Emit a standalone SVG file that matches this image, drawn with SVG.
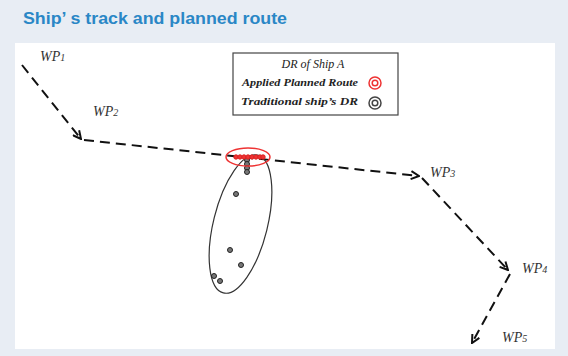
<svg xmlns="http://www.w3.org/2000/svg" width="568" height="356" viewBox="0 0 568 356">
<style>
.title{font-family:"Liberation Sans",Arial,sans-serif;font-weight:bold;font-size:17px;fill:#2a87c6}
.wp{font-family:"Liberation Serif","Times New Roman",serif;font-style:italic;font-size:14px;fill:#333}
.sub{font-size:10px}
.leg{font-family:"Liberation Serif","Times New Roman",serif;font-style:italic;fill:#222}
.route{fill:none;stroke:#111;stroke-width:2;stroke-dasharray:10 6;marker-end:url(#arr)}
.dot{fill:#777;stroke:#222;stroke-width:1}
.rdot{fill:#e33;stroke:#d22;stroke-width:1}
</style>
<defs>
<marker id="arr" viewBox="0 0 10 10" refX="9" refY="5" markerWidth="10" markerHeight="10" markerUnits="userSpaceOnUse" orient="auto">
<path d="M1,1 L9,5 L1,9" fill="none" stroke="#111" stroke-width="2"/>
</marker>
</defs>
<rect width="568" height="356" fill="#e8edf4"/>
<rect x="15" y="43" width="540" height="306" fill="#ffffff"/>
<g id="title">
<text class="title" x="23" y="24" textLength="264" lengthAdjust="spacingAndGlyphs">Ship’ s track and planned route</text>
</g>
<g id="connectors">
<path class="route" d="M22,65 L81,139"/>
<path class="route" d="M84,140 L419,176"/>
<path class="route" d="M422,178 L508,270"/>
<path class="route" d="M510,274 L472,343"/>
</g>
<g id="wp1"><text class="wp" x="40" y="61">WP<tspan class="sub">1</tspan></text></g>
<g id="wp2"><text class="wp" x="93" y="116">WP<tspan class="sub">2</tspan></text></g>
<g id="wp3"><text class="wp" x="430" y="177">WP<tspan class="sub">3</tspan></text></g>
<g id="wp4"><text class="wp" x="522" y="273">WP<tspan class="sub">4</tspan></text></g>
<g id="wp5"><text class="wp" x="502" y="342">WP<tspan class="sub">5</tspan></text></g>
<g id="legend">
<rect x="233" y="53" width="165" height="62" fill="#fff" stroke="#444" stroke-width="1.2"/>
<text class="leg" x="313" y="68" font-size="12" text-anchor="middle">DR of Ship A</text>
<text class="leg" x="242" y="86" font-size="10.5" font-weight="bold" textLength="116" lengthAdjust="spacingAndGlyphs">Applied Planned Route</text>
<text class="leg" x="241" y="105" font-size="10.5" font-weight="bold" textLength="117" lengthAdjust="spacingAndGlyphs">Traditional ship’s DR</text>
<circle cx="375" cy="83" r="6" fill="none" stroke="#e33" stroke-width="1.5"/>
<circle cx="375" cy="83" r="2.8" fill="none" stroke="#e33" stroke-width="1.5"/>
<circle cx="375" cy="103" r="6" fill="none" stroke="#444" stroke-width="1.5"/>
<circle cx="375" cy="103" r="2.8" fill="none" stroke="#444" stroke-width="1.5"/>
</g>
<g id="dr-ellipse">
<ellipse cx="240.5" cy="224" rx="27" ry="71" transform="rotate(14 240.5 224)" fill="none" stroke="#333" stroke-width="1.2"/>
<circle class="dot" cx="236" cy="194" r="2.5"/>
<circle class="dot" cx="230" cy="250" r="2.5"/>
<circle class="dot" cx="241" cy="265" r="2.5"/>
<circle class="dot" cx="214" cy="276" r="2.5"/>
<circle class="dot" cx="220" cy="281" r="2.5"/>
<circle class="dot" cx="247" cy="160" r="2.5"/>
<circle class="dot" cx="247" cy="164" r="2.5"/>
<circle class="dot" cx="247" cy="168" r="2.5"/>
<circle class="dot" cx="247" cy="172" r="2.5"/>
</g>
<g id="planned-ellipse">
<ellipse cx="248" cy="157" rx="22" ry="9" fill="none" stroke="#e33" stroke-width="1.5"/>
<circle class="rdot" cx="236" cy="157" r="2.2"/>
<circle class="rdot" cx="240" cy="157" r="2.2"/>
<circle class="rdot" cx="244" cy="157" r="2.2"/>
<circle class="rdot" cx="248" cy="157" r="2.2"/>
<circle class="rdot" cx="252" cy="157" r="2.2"/>
<circle class="rdot" cx="256" cy="157" r="2.2"/>
<circle class="rdot" cx="260" cy="157" r="2.2"/>
<circle class="rdot" cx="263" cy="157" r="2.2"/>
</g>
</svg>
